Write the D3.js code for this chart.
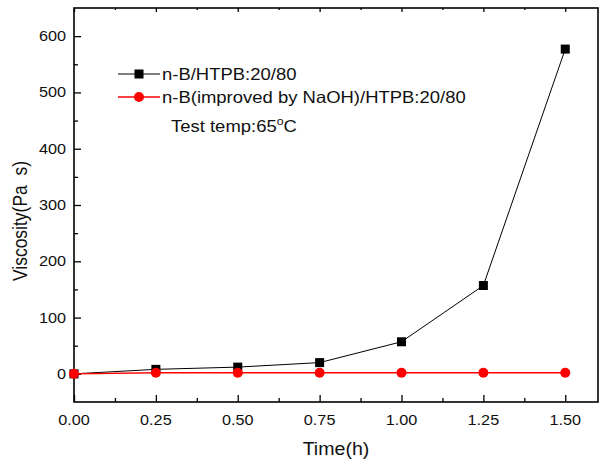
<!DOCTYPE html>
<html>
<head>
<meta charset="utf-8">
<script src="https://cdn.jsdelivr.net/npm/d3@7"></script>
<style>
  html, body { margin: 0; padding: 0; background: #fff; }
  svg { display: block; font-family: "Liberation Sans", Arial, sans-serif; }
</style>
</head>
<body>
<svg id="chart" width="599" height="460"></svg>
<script>
// Viscosity over time for the two n-B/HTPB blends
const times = [0, 0.25, 0.5, 0.75, 1.0, 1.25, 1.5];
const viscosityPlain = [0, 8, 12, 20, 57, 157, 577];
const viscosityNaOH = [0, 2, 2, 2, 2, 2, 2];
const seriesNames = ["n-B/HTPB:20/80", "n-B(improved by NaOH)/HTPB:20/80"];
const xTickValues = [0, 0.25, 0.5, 0.75, 1.0, 1.25, 1.5];
const yTickValues = [0, 100, 200, 300, 400, 500, 600];

const svg = d3.select("#chart");
const plotL = 74, plotR = 598, plotT = 8, plotB = 402;
const sx = 1.12; // horizontal widening of all text

const x = d3.scaleLinear().domain([0, 1.6]).range([plotL, plotR]);
const y = d3.scaleLinear().domain([-50, 650]).range([plotB, plotT]);

const xMinor = d3.range(0.125, 1.6, 0.25);
const yMinor = d3.range(-50, 650, 100).filter(v => v > -50);

function ticks(axis, transform) {
  const g = svg.append("g").attr("transform", transform).call(axis);
  g.select(".domain").remove();
  g.selectAll(".tick line").attr("stroke", "#000").attr("stroke-width", 1.3);
  g.selectAll(".tick text").remove();
  return g;
}

// bottom ticks
ticks(d3.axisBottom(x).tickValues(xTickValues).tickSize(-7).tickFormat(""), `translate(0,${plotB})`);
ticks(d3.axisBottom(x).tickValues(xMinor).tickSize(-4).tickFormat(""), `translate(0,${plotB})`);
// top ticks
ticks(d3.axisTop(x).tickValues(xTickValues).tickSize(-4).tickFormat(""), `translate(0,${plotT})`);
ticks(d3.axisTop(x).tickValues(xMinor).tickSize(-2).tickFormat(""), `translate(0,${plotT})`);
// left ticks
ticks(d3.axisLeft(y).tickValues(yTickValues).tickSize(-7).tickFormat(""), `translate(${plotL},0)`);
ticks(d3.axisLeft(y).tickValues(yMinor).tickSize(-4).tickFormat(""), `translate(${plotL},0)`);

// frame
svg.append("rect")
  .attr("x", plotL).attr("y", plotT)
  .attr("width", plotR - plotL).attr("height", plotB - plotT)
  .attr("fill", "none").attr("stroke", "#000").attr("stroke-width", 1.6);

function label(px, py, txt, size, anchor) {
  return svg.append("text")
    .attr("transform", `translate(${px},${py}) scale(${sx},1)`)
    .attr("text-anchor", anchor)
    .attr("font-size", size)
    .attr("fill", "#111")
    .text(txt);
}

// tick labels
const fmtX = d3.format(".2f");
xTickValues.forEach(v => label(x(v), 425, fmtX(v), 14.5, "middle"));
yTickValues.forEach(v => label(66, y(v) + 5, String(v), 14.5, "end"));

// axis titles
label((plotL + plotR) / 2, 455, "Time(h)", 17.5, "middle");
svg.append("text")
  .attr("transform", `translate(27,221) scale(${sx},1) rotate(-90)`)
  .attr("text-anchor", "middle")
  .attr("font-size", 17.5)
  .attr("fill", "#111")
  .style("white-space", "pre")
  .text("Viscosity(Pa  s)");

// series
const line = d3.line().x(d => x(d[0])).y(d => y(d[1]));
const plainPts = times.map((t, i) => [t, viscosityPlain[i]]);
const naohPts = times.map((t, i) => [t, viscosityNaOH[i]]);

svg.append("path").datum(plainPts).attr("d", line)
  .attr("fill", "none").attr("stroke", "#000").attr("stroke-width", 1);
svg.selectAll(".sq").data(plainPts).enter().append("rect")
  .attr("x", d => x(d[0]) - 4.5).attr("y", d => y(d[1]) - 4.5)
  .attr("width", 9).attr("height", 9).attr("fill", "#000");

svg.append("path").datum(naohPts).attr("d", line)
  .attr("fill", "none").attr("stroke", "#ff0000").attr("stroke-width", 1.3);
svg.selectAll(".dot").data(naohPts).enter().append("circle")
  .attr("cx", d => x(d[0])).attr("cy", d => y(d[1])).attr("r", 5)
  .attr("fill", "#ff0000");

// legend
const leg = [{ y: 74, color: "#000", shape: "square" }, { y: 97, color: "#ff0000", shape: "circle" }];
leg.forEach((d, i) => {
  svg.append("line").attr("x1", 118).attr("x2", 160).attr("y1", d.y).attr("y2", d.y)
    .attr("stroke", d.color).attr("stroke-width", i ? 1.3 : 1);
  if (d.shape === "square") {
    svg.append("rect").attr("x", 139 - 4.5).attr("y", d.y - 4.5).attr("width", 9).attr("height", 9).attr("fill", d.color);
  } else {
    svg.append("circle").attr("cx", 139).attr("cy", d.y).attr("r", 5).attr("fill", d.color);
  }
  label(162, d.y + 6, seriesNames[i], 16.5, "start");
});

const note = label(171, 132, "", 16.5, "start");
note.append("tspan").text("Test temp:65");
note.append("tspan").attr("font-size", 11).attr("dy", -7).text("o");
note.append("tspan").attr("dy", 7).text("C");
</script>
</body>
</html>
